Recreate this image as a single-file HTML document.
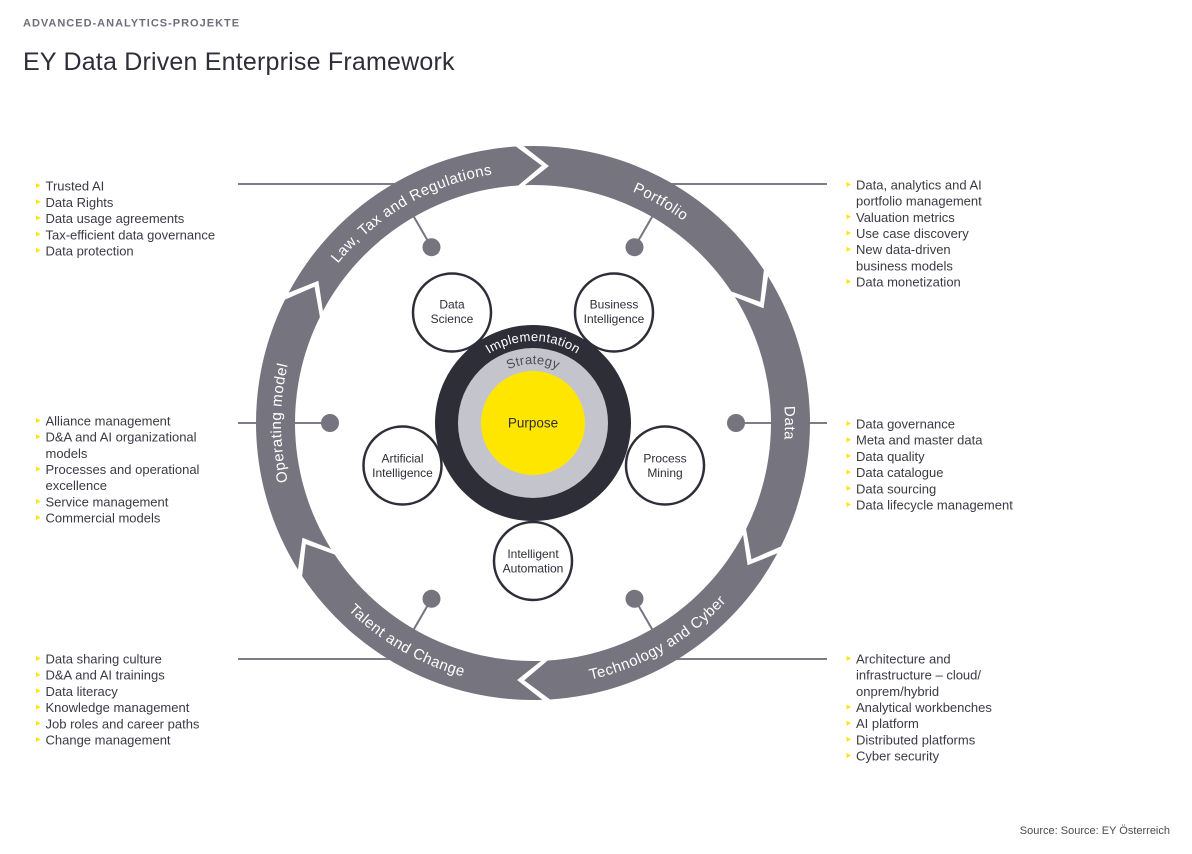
<!DOCTYPE html>
<html>
<head>
<meta charset="utf-8">
<style>
html,body{margin:0;padding:0;background:#fff;}
body{width:1192px;height:854px;overflow:hidden;}
svg{display:block;font-family:"Liberation Sans",sans-serif;}
.li{font-size:13px;fill:#3a3a44;}
.rl{font-size:15px;fill:#ffffff;letter-spacing:0.5px;}
.sat{font-size:12px;fill:#2e2e38;}
</style>
</head>
<body>
<svg width="1192" height="854" viewBox="0 0 1192 854" xmlns="http://www.w3.org/2000/svg">
<defs>
  <path id="pLaw" d="M284.83,379.24 A252,252 0 0 1 619.19,186.20"/>
  <path id="pPort" d="M446.81,186.20 A252,252 0 0 1 781.17,379.24"/>
  <path id="pData" d="M694.98,229.96 A252,252 0 0 1 694.98,616.04"/>
  <path id="pOp" d="M371.02,616.04 A252,252 0 0 1 371.02,229.96"/>
  <path id="pTech" d="M443.05,670.14 A263,263 0 0 0 792.00,468.67"/>
  <path id="pTal" d="M274.00,468.67 A263,263 0 0 0 622.95,670.14"/>
  <path id="pImp" d="M451,423 A82,82 0 0 1 615,423"/>
  <path id="pStr" d="M474,423 A59,59 0 0 1 592,423"/>
</defs>

<!-- Header -->
<text x="23" y="26.7" style="font-size:11px;font-weight:bold;fill:#6e6e78;letter-spacing:1px;">ADVANCED-ANALYTICS-PROJEKTE</text>
<text x="23" y="70" style="font-size:25px;fill:#2e2e38;letter-spacing:0.2px;">EY Data Driven Enterprise Framework</text>

<!-- Connector lines -->
<g stroke="#7d7d88" stroke-width="2" fill="none">
  <line x1="238" y1="184" x2="400" y2="184"/>
  <line x1="666" y1="184" x2="827" y2="184"/>
  <line x1="238" y1="423" x2="330" y2="423"/>
  <line x1="736" y1="423" x2="827" y2="423"/>
  <line x1="238" y1="659" x2="400" y2="659"/>
  <line x1="666" y1="659" x2="827" y2="659"/>
</g>
<g stroke="#75747f" stroke-width="2" fill="none">
  <line x1="431.5" y1="247.2" x2="413" y2="215.2"/>
  <line x1="634.5" y1="247.2" x2="653" y2="215.2"/>
  <line x1="634.5" y1="598.8" x2="653" y2="630.8"/>
  <line x1="431.5" y1="598.8" x2="413" y2="630.8"/>
</g>
<g fill="#75747f">
  <circle cx="431.5" cy="247.2" r="9"/>
  <circle cx="634.5" cy="247.2" r="9"/>
  <circle cx="634.5" cy="598.8" r="9"/>
  <circle cx="431.5" cy="598.8" r="9"/>
  <circle cx="330" cy="423" r="9"/>
  <circle cx="736" cy="423" r="9"/>
</g>

<!-- Ring segments -->
<g fill="#75747f">
  <path d="M288.54,292.74 A277,277 0 0 1 515.85,146.53 L541.76,165.65 L518.26,185.46 A238,238 0 0 0 322.96,311.08 L318.40,280.69 Z"/>
  <path d="M523.57,146.16 A277,277 0 0 1 763.85,269.91 L760.25,301.91 L731.35,291.47 A238,238 0 0 0 524.90,185.14 L548.94,165.99 Z"/>
  <path d="M768.04,276.42 A277,277 0 0 1 781.00,546.38 L751.49,559.26 L746.09,529.01 A238,238 0 0 0 734.95,297.06 L763.54,308.30 Z"/>
  <path d="M777.46,553.26 A277,277 0 0 1 550.15,699.47 L524.24,680.35 L547.74,660.54 A238,238 0 0 0 743.04,534.92 L747.60,565.31 Z"/>
  <path d="M542.43,699.84 A277,277 0 0 1 302.15,576.09 L305.75,544.09 L334.65,554.53 A238,238 0 0 0 541.10,660.86 L517.06,680.01 Z"/>
  <path d="M297.96,569.58 A277,277 0 0 1 285.00,299.62 L314.51,286.74 L319.91,316.99 A238,238 0 0 0 331.05,548.94 L302.46,537.70 Z"/>
</g>

<!-- Ring labels -->
<text class="rl"><textPath href="#pLaw" startOffset="50%" text-anchor="middle">Law, Tax and Regulations</textPath></text>
<text class="rl"><textPath href="#pPort" startOffset="50%" text-anchor="middle">Portfolio</textPath></text>
<text class="rl"><textPath href="#pData" startOffset="50%" text-anchor="middle">Data</textPath></text>
<text class="rl"><textPath href="#pOp" startOffset="50%" text-anchor="middle">Operating model</textPath></text>
<text class="rl"><textPath href="#pTech" startOffset="50%" text-anchor="middle">Technology and Cyber</textPath></text>
<text class="rl"><textPath href="#pTal" startOffset="50%" text-anchor="middle">Talent and Change</textPath></text>

<!-- Center -->
<circle cx="533" cy="423" r="98" fill="#2e2e38"/>
<circle cx="533" cy="423" r="75" fill="#c4c4cd"/>
<circle cx="533" cy="423" r="52" fill="#ffe600"/>
<text style="font-size:13px;fill:#ffffff;letter-spacing:0.3px;"><textPath href="#pImp" startOffset="50%" text-anchor="middle">Implementation</textPath></text>
<text style="font-size:13px;fill:#4b4b55;letter-spacing:0.3px;"><textPath href="#pStr" startOffset="50%" text-anchor="middle">Strategy</textPath></text>
<text x="533" y="427.5" text-anchor="middle" style="font-size:13.5px;fill:#2e2e38;">Purpose</text>

<!-- Satellites -->
<g fill="#ffffff" stroke="#2e2e38" stroke-width="2.5">
  <circle cx="452" cy="312.5" r="39"/>
  <circle cx="614" cy="312.5" r="39"/>
  <circle cx="402.5" cy="465.5" r="39"/>
  <circle cx="665" cy="465.5" r="39"/>
  <circle cx="533" cy="561" r="39"/>
</g>
<g class="sat" text-anchor="middle">
  <text x="452" y="308.5">Data</text>
  <text x="452" y="323">Science</text>
  <text x="614" y="308.5">Business</text>
  <text x="614" y="323">Intelligence</text>
  <text x="402.5" y="462.5">Artificial</text>
  <text x="402.5" y="477">Intelligence</text>
  <text x="665" y="462.5">Process</text>
  <text x="665" y="477">Mining</text>
  <text x="533" y="558">Intelligent</text>
  <text x="533" y="572.5">Automation</text>
</g>

<!-- Left lists -->
<g fill="#ffe600">
  <path d="M36,183 L40.5,185.5 L36,188 Z"/>
  <path d="M36,199.2 L40.5,201.7 L36,204.2 Z"/>
  <path d="M36,215.4 L40.5,217.9 L36,220.4 Z"/>
  <path d="M36,231.6 L40.5,234.1 L36,236.6 Z"/>
  <path d="M36,247.8 L40.5,250.3 L36,252.8 Z"/>

  <path d="M36,418 L40.5,420.5 L36,423 Z"/>
  <path d="M36,434.2 L40.5,436.7 L36,439.2 Z"/>
  <path d="M36,466.5 L40.5,469 L36,471.5 Z"/>
  <path d="M36,498.9 L40.5,501.4 L36,503.9 Z"/>
  <path d="M36,515 L40.5,517.5 L36,520 Z"/>

  <path d="M36,656 L40.5,658.5 L36,661 Z"/>
  <path d="M36,672.2 L40.5,674.7 L36,677.2 Z"/>
  <path d="M36,688.4 L40.5,690.9 L36,693.4 Z"/>
  <path d="M36,704.6 L40.5,707.1 L36,709.6 Z"/>
  <path d="M36,720.8 L40.5,723.3 L36,725.8 Z"/>
  <path d="M36,737 L40.5,739.5 L36,742 Z"/>
</g>
<g class="li">
  <text x="45.5" y="190.7">Trusted AI</text>
  <text x="45.5" y="206.9">Data Rights</text>
  <text x="45.5" y="223.1">Data usage agreements</text>
  <text x="45.5" y="239.3">Tax-efficient data governance</text>
  <text x="45.5" y="255.5">Data protection</text>

  <text x="45.5" y="425.5">Alliance management</text>
  <text x="45.5" y="441.7">D&amp;A and AI organizational</text>
  <text x="45.5" y="457.8">models</text>
  <text x="45.5" y="474">Processes and operational</text>
  <text x="45.5" y="490.2">excellence</text>
  <text x="45.5" y="506.4">Service management</text>
  <text x="45.5" y="522.5">Commercial models</text>

  <text x="45.5" y="663.5">Data sharing culture</text>
  <text x="45.5" y="679.7">D&amp;A and AI trainings</text>
  <text x="45.5" y="695.9">Data literacy</text>
  <text x="45.5" y="712.1">Knowledge management</text>
  <text x="45.5" y="728.3">Job roles and career paths</text>
  <text x="45.5" y="744.5">Change management</text>
</g>

<!-- Right lists -->
<g fill="#ffe600">
  <path d="M846.5,182 L851,184.5 L846.5,187 Z"/>
  <path d="M846.5,214.3 L851,216.8 L846.5,219.3 Z"/>
  <path d="M846.5,230.5 L851,233 L846.5,235.5 Z"/>
  <path d="M846.5,246.7 L851,249.2 L846.5,251.7 Z"/>
  <path d="M846.5,279 L851,281.5 L846.5,284 Z"/>

  <path d="M846.5,421 L851,423.5 L846.5,426 Z"/>
  <path d="M846.5,437.2 L851,439.7 L846.5,442.2 Z"/>
  <path d="M846.5,453.4 L851,455.9 L846.5,458.4 Z"/>
  <path d="M846.5,469.6 L851,472.1 L846.5,474.6 Z"/>
  <path d="M846.5,485.8 L851,488.3 L846.5,490.8 Z"/>
  <path d="M846.5,502 L851,504.5 L846.5,507 Z"/>

  <path d="M846.5,656 L851,658.5 L846.5,661 Z"/>
  <path d="M846.5,704.5 L851,707 L846.5,709.5 Z"/>
  <path d="M846.5,720.7 L851,723.2 L846.5,725.7 Z"/>
  <path d="M846.5,736.9 L851,739.4 L846.5,741.9 Z"/>
  <path d="M846.5,753 L851,755.5 L846.5,758 Z"/>
</g>
<g class="li">
  <text x="856" y="189.5">Data, analytics and AI</text>
  <text x="856" y="205.7">portfolio management</text>
  <text x="856" y="221.8">Valuation metrics</text>
  <text x="856" y="238">Use case discovery</text>
  <text x="856" y="254.2">New data-driven</text>
  <text x="856" y="270.4">business models</text>
  <text x="856" y="286.5">Data monetization</text>

  <text x="856" y="428.5">Data governance</text>
  <text x="856" y="444.7">Meta and master data</text>
  <text x="856" y="460.9">Data quality</text>
  <text x="856" y="477.1">Data catalogue</text>
  <text x="856" y="493.3">Data sourcing</text>
  <text x="856" y="509.5">Data lifecycle management</text>

  <text x="856" y="663.5">Architecture and</text>
  <text x="856" y="679.7">infrastructure – cloud/</text>
  <text x="856" y="695.8">onprem/hybrid</text>
  <text x="856" y="712">Analytical workbenches</text>
  <text x="856" y="728.2">AI platform</text>
  <text x="856" y="744.4">Distributed platforms</text>
  <text x="856" y="760.5">Cyber security</text>
</g>

<!-- Source -->
<text x="1170" y="834" text-anchor="end" style="font-size:11px;fill:#4a4a52;">Source: Source: EY Österreich</text>
</svg>
</body>
</html>
